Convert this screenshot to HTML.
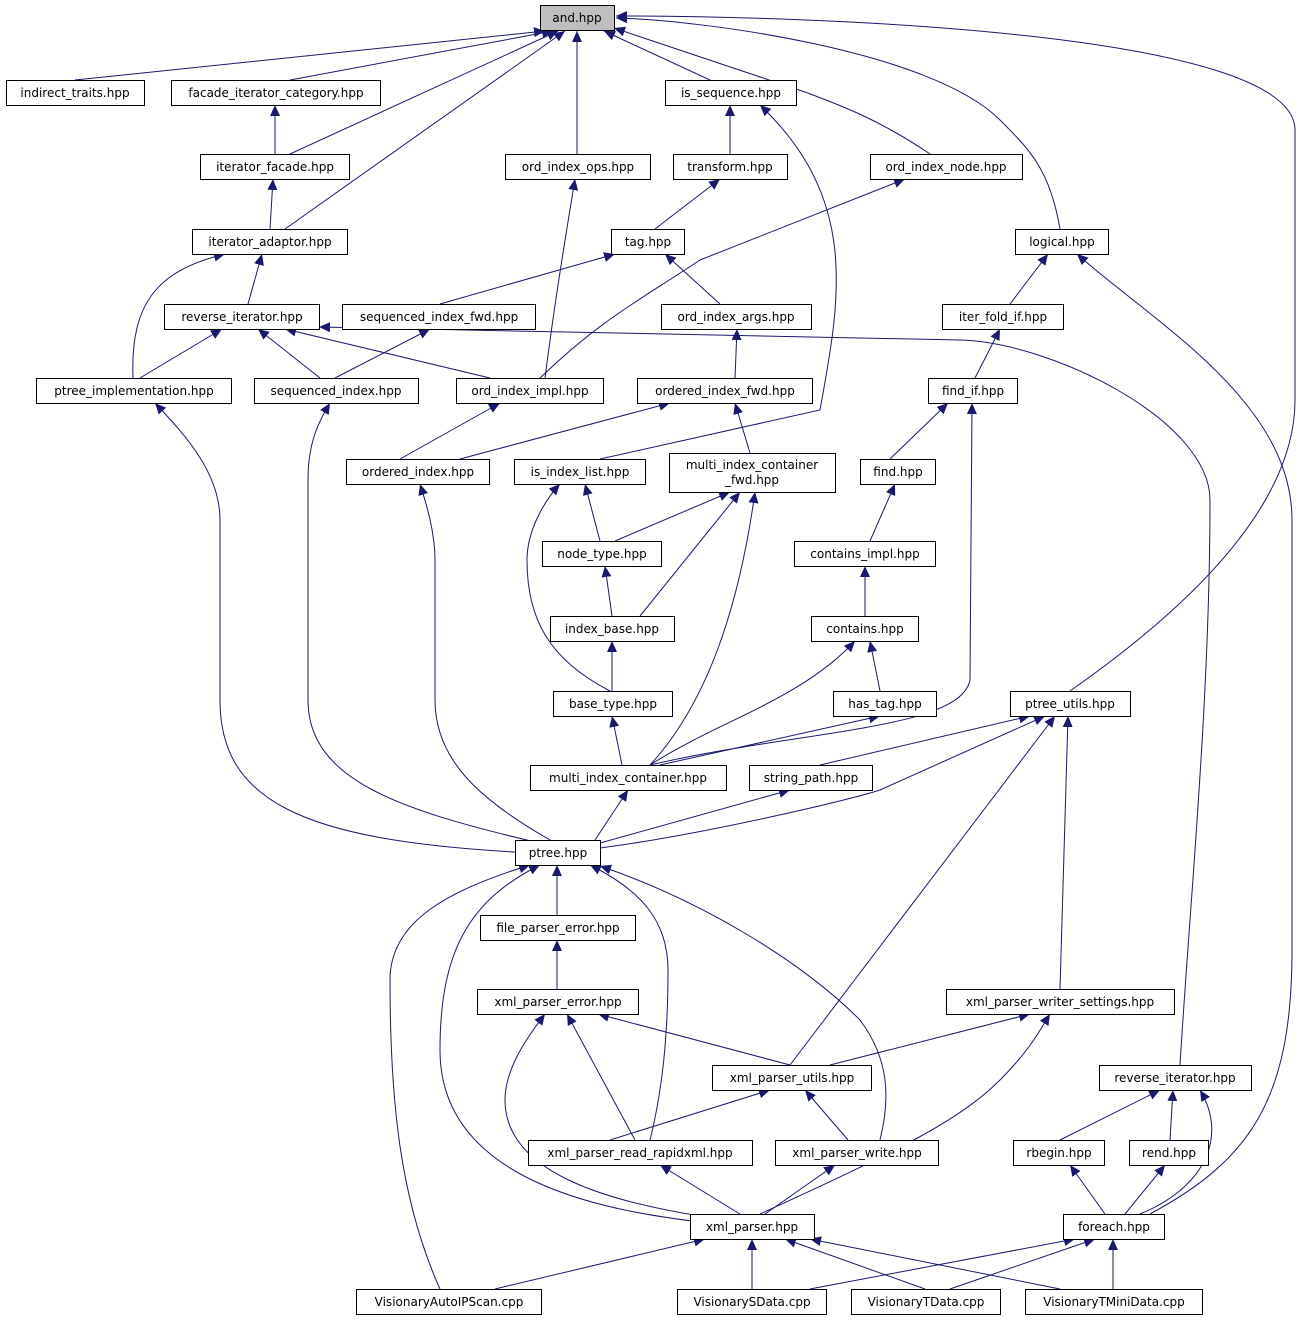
<!DOCTYPE html>
<html><head><meta charset="utf-8"><style>
html,body{margin:0;padding:0;background:#fff;}
svg{display:block;}
text{font-family:"DejaVu Sans","Liberation Sans",sans-serif;font-size:12px;fill:#000;}
.n rect{fill:#fff;stroke:#000;stroke-width:1;}
.e{fill:none;stroke:#191970;stroke-width:1;marker-end:url(#a);}
</style></head><body>
<svg width="1302" height="1321" viewBox="0 0 1302 1321" xmlns="http://www.w3.org/2000/svg">
<defs><marker id="a" markerUnits="userSpaceOnUse" markerWidth="12" markerHeight="10" refX="11" refY="5" orient="auto"><path d="M0,0 L11,5 L0,10 z" fill="#191970"/></marker></defs>
<g>
<path class="e" d="M75,80 L545,31"/>
<path class="e" d="M290,80 L553,31"/>
<path class="e" d="M290,154 L558,31"/>
<path class="e" d="M285,229 L565,31"/>
<path class="e" d="M577,154 L577,31"/>
<path class="e" d="M710,80 L604,31"/>
<path class="e" d="M930,154 C880,120 840,105 805,92 L614,28"/>
<path class="e" d="M1060,229 C1050,170 1030,150 1000,120 C930,50 700,20 616,18"/>
<path class="e" d="M1070,691 C1200,600 1295,500 1295,400 L1295,130 C1295,30 800,16 616,16"/>
<path class="e" d="M275,154 L275,105"/>
<path class="e" d="M270,229 L273,179"/>
<path class="e" d="M248,304 L262,254"/>
<path class="e" d="M133,378 C130,300 160,270 225,254"/>
<path class="e" d="M730,154 L730,105"/>
<path class="e" d="M600,459 L820,410 C840,300 860,200 760,105"/>
<path class="e" d="M655,229 L720,179"/>
<path class="e" d="M440,304 L615,254"/>
<path class="e" d="M720,304 L665,254"/>
<path class="e" d="M540,378 C600,320 640,300 700,260 L905,179"/>
<path class="e" d="M545,378 C555,300 565,240 575,179"/>
<path class="e" d="M1010,304 L1048,254"/>
<path class="e" d="M1150,1214 C1250,1160 1292,1100 1292,950 L1292,520 C1292,400 1150,320 1077,254"/>
<path class="e" d="M140,378 L222,329"/>
<path class="e" d="M320,378 L258,329"/>
<path class="e" d="M490,378 L285,329"/>
<path class="e" d="M1180,1065 C1190,900 1210,700 1210,500 C1210,420 1050,342 960,340 L319,327"/>
<path class="e" d="M335,378 L430,329"/>
<path class="e" d="M735,378 L737,329"/>
<path class="e" d="M975,378 L1000,329"/>
<path class="e" d="M515,852 C300,840 220,800 220,700 L220,520 C220,470 180,430 155,403"/>
<path class="e" d="M535,842 C400,810 308,780 308,700 L308,480 C308,440 320,420 330,403"/>
<path class="e" d="M550,840 C480,800 435,760 435,700 L435,560 C435,530 425,500 420,484"/>
<path class="e" d="M400,459 L500,403"/>
<path class="e" d="M460,459 L670,403"/>
<path class="e" d="M750,453 L735,403"/>
<path class="e" d="M650,765 C800,730 960,730 970,680 L972,403"/>
<path class="e" d="M890,459 L948,403"/>
<path class="e" d="M600,541 L585,484"/>
<path class="e" d="M610,691 C550,660 527,620 527,560 C527,530 545,500 560,484"/>
<path class="e" d="M615,541 L730,492"/>
<path class="e" d="M640,616 L740,492"/>
<path class="e" d="M650,765 C710,700 740,600 755,492"/>
<path class="e" d="M870,541 L895,484"/>
<path class="e" d="M612,616 L605,566"/>
<path class="e" d="M865,616 L865,566"/>
<path class="e" d="M612,691 L612,641"/>
<path class="e" d="M880,691 L870,641"/>
<path class="e" d="M650,765 C720,720 800,700 855,641"/>
<path class="e" d="M622,765 L612,716"/>
<path class="e" d="M660,765 L880,716"/>
<path class="e" d="M820,765 L1030,716"/>
<path class="e" d="M600,848 C700,835 850,800 880,790 L1045,716"/>
<path class="e" d="M790,1065 L1055,716"/>
<path class="e" d="M1060,989 L1068,716"/>
<path class="e" d="M595,840 L628,790"/>
<path class="e" d="M600,843 L790,790"/>
<path class="e" d="M557,915 L557,865"/>
<path class="e" d="M440,1289 C400,1200 390,1100 390,980 C390,920 450,890 530,865"/>
<path class="e" d="M700,1222 C600,1210 440,1180 440,1050 C440,950 470,900 540,865"/>
<path class="e" d="M650,1140 C665,1080 668,1020 668,970 C668,920 640,890 590,865"/>
<path class="e" d="M880,1140 C890,1100 890,1060 860,1020 C800,960 700,900 600,866"/>
<path class="e" d="M557,989 L557,940"/>
<path class="e" d="M790,1065 L598,1014"/>
<path class="e" d="M635,1140 L567,1014"/>
<path class="e" d="M700,1216 C600,1200 505,1170 505,1100 C505,1070 525,1040 545,1014"/>
<path class="e" d="M830,1065 L1030,1014"/>
<path class="e" d="M760,1214 C900,1150 960,1120 1000,1080 C1030,1050 1040,1030 1050,1014"/>
<path class="e" d="M610,1140 L770,1090"/>
<path class="e" d="M848,1140 L805,1090"/>
<path class="e" d="M1060,1140 L1160,1090"/>
<path class="e" d="M1170,1140 L1173,1090"/>
<path class="e" d="M1140,1214 C1200,1190 1230,1140 1200,1090"/>
<path class="e" d="M740,1214 L660,1165"/>
<path class="e" d="M765,1214 L835,1165"/>
<path class="e" d="M1105,1214 L1070,1165"/>
<path class="e" d="M1125,1214 L1165,1165"/>
<path class="e" d="M495,1289 L705,1239"/>
<path class="e" d="M752,1289 L752,1239"/>
<path class="e" d="M925,1289 L785,1239"/>
<path class="e" d="M1060,1289 L810,1239"/>
<path class="e" d="M810,1289 L1075,1239"/>
<path class="e" d="M950,1289 L1095,1239"/>
<path class="e" d="M1113,1289 L1113,1239"/>
</g>
<g class="n" text-anchor="middle">
<rect x="540.5" y="5.5" width="74" height="25" style="fill:#bfbfbf"/><text x="577" y="22">and.hpp</text>
<rect x="6.5" y="80.5" width="138" height="25"/><text x="75" y="97">indirect_traits.hpp</text>
<rect x="171.5" y="80.5" width="209" height="25"/><text x="276" y="97">facade_iterator_category.hpp</text>
<rect x="665.5" y="80.5" width="131" height="25"/><text x="731" y="97">is_sequence.hpp</text>
<rect x="200.5" y="154.5" width="149" height="25"/><text x="275" y="171">iterator_facade.hpp</text>
<rect x="505.5" y="154.5" width="145" height="25"/><text x="578" y="171">ord_index_ops.hpp</text>
<rect x="673.5" y="154.5" width="114" height="25"/><text x="730" y="171">transform.hpp</text>
<rect x="870.5" y="154.5" width="152" height="25"/><text x="946" y="171">ord_index_node.hpp</text>
<rect x="192.5" y="229.5" width="155" height="25"/><text x="270" y="246">iterator_adaptor.hpp</text>
<rect x="611.5" y="229.5" width="73" height="25"/><text x="648" y="246">tag.hpp</text>
<rect x="1015.5" y="229.5" width="93" height="25"/><text x="1062" y="246">logical.hpp</text>
<rect x="164.5" y="304.5" width="155" height="25"/><text x="242" y="321">reverse_iterator.hpp</text>
<rect x="342.5" y="304.5" width="193" height="25"/><text x="439" y="321">sequenced_index_fwd.hpp</text>
<rect x="661.5" y="304.5" width="150" height="25"/><text x="736" y="321">ord_index_args.hpp</text>
<rect x="942.5" y="304.5" width="121" height="25"/><text x="1003" y="321">iter_fold_if.hpp</text>
<rect x="36.5" y="378.5" width="195" height="25"/><text x="134" y="395">ptree_implementation.hpp</text>
<rect x="254.5" y="378.5" width="164" height="25"/><text x="336" y="395">sequenced_index.hpp</text>
<rect x="456.5" y="378.5" width="147" height="25"/><text x="530" y="395">ord_index_impl.hpp</text>
<rect x="637.5" y="378.5" width="175" height="25"/><text x="725" y="395">ordered_index_fwd.hpp</text>
<rect x="928.5" y="378.5" width="89" height="25"/><text x="973" y="395">find_if.hpp</text>
<rect x="346.5" y="459.5" width="143" height="25"/><text x="418" y="476">ordered_index.hpp</text>
<rect x="514.5" y="459.5" width="131" height="25"/><text x="580" y="476">is_index_list.hpp</text>
<rect x="669.5" y="453.5" width="166" height="39"/><text x="752" y="469">multi_index_container</text><text x="752" y="484">_fwd.hpp</text>
<rect x="860.5" y="459.5" width="75" height="25"/><text x="898" y="476">find.hpp</text>
<rect x="542.5" y="541.5" width="119" height="25"/><text x="602" y="558">node_type.hpp</text>
<rect x="794.5" y="541.5" width="141" height="25"/><text x="865" y="558">contains_impl.hpp</text>
<rect x="550.5" y="616.5" width="124" height="25"/><text x="612" y="633">index_base.hpp</text>
<rect x="811.5" y="616.5" width="107" height="25"/><text x="865" y="633">contains.hpp</text>
<rect x="553.5" y="691.5" width="119" height="25"/><text x="613" y="708">base_type.hpp</text>
<rect x="833.5" y="691.5" width="103" height="25"/><text x="885" y="708">has_tag.hpp</text>
<rect x="1010.5" y="691.5" width="120" height="25"/><text x="1070" y="708">ptree_utils.hpp</text>
<rect x="530.5" y="765.5" width="196" height="25"/><text x="628" y="782">multi_index_container.hpp</text>
<rect x="749.5" y="765.5" width="123" height="25"/><text x="811" y="782">string_path.hpp</text>
<rect x="515.5" y="840.5" width="85" height="25"/><text x="558" y="857">ptree.hpp</text>
<rect x="480.5" y="915.5" width="155" height="25"/><text x="558" y="932">file_parser_error.hpp</text>
<rect x="477.5" y="989.5" width="161" height="25"/><text x="558" y="1006">xml_parser_error.hpp</text>
<rect x="946.5" y="989.5" width="228" height="25"/><text x="1060" y="1006">xml_parser_writer_settings.hpp</text>
<rect x="712.5" y="1065.5" width="159" height="25"/><text x="792" y="1082">xml_parser_utils.hpp</text>
<rect x="1099.5" y="1065.5" width="152" height="25"/><text x="1175" y="1082">reverse_iterator.hpp</text>
<rect x="528.5" y="1140.5" width="224" height="25"/><text x="640" y="1157">xml_parser_read_rapidxml.hpp</text>
<rect x="775.5" y="1140.5" width="163" height="25"/><text x="857" y="1157">xml_parser_write.hpp</text>
<rect x="1013.5" y="1140.5" width="91" height="25"/><text x="1059" y="1157">rbegin.hpp</text>
<rect x="1129.5" y="1140.5" width="79" height="25"/><text x="1169" y="1157">rend.hpp</text>
<rect x="690.5" y="1214.5" width="124" height="25"/><text x="752" y="1231">xml_parser.hpp</text>
<rect x="1063.5" y="1214.5" width="101" height="25"/><text x="1114" y="1231">foreach.hpp</text>
<rect x="356.5" y="1289.5" width="185" height="25"/><text x="449" y="1306">VisionaryAutoIPScan.cpp</text>
<rect x="677.5" y="1289.5" width="149" height="25"/><text x="752" y="1306">VisionarySData.cpp</text>
<rect x="851.5" y="1289.5" width="149" height="25"/><text x="926" y="1306">VisionaryTData.cpp</text>
<rect x="1025.5" y="1289.5" width="177" height="25"/><text x="1114" y="1306">VisionaryTMiniData.cpp</text>
</g>
</svg>
</body></html>
